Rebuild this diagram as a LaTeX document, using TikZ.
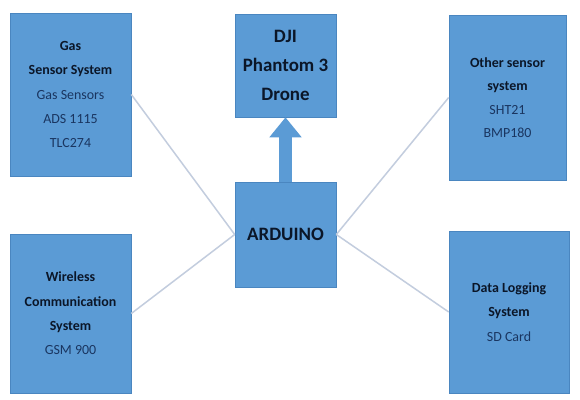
\documentclass[tikz,border=0pt]{standalone}
\usepackage{fontspec}
\setmainfont{Carlito}
\usetikzlibrary{arrows.meta}
\definecolor{boxblue}{HTML}{5B9BD5}
\definecolor{boxedge}{HTML}{4A86C0}
\definecolor{headtxt}{HTML}{0B1628}
\definecolor{subtxt}{HTML}{1A3560}
\definecolor{linkgray}{HTML}{C3CDDE}
\tikzset{
  block/.style={draw=boxedge, line width=0.6bp, fill=boxblue, align=center, inner sep=0pt},
  small/.style={block, font=\fontsize{14}{24.5}\selectfont},
  big/.style={block, font=\fontsize{19}{29}\selectfont\bfseries, text=headtxt},
  link/.style={draw=linkgray, line width=1.5bp},
}
\newcommand{\hdtxt}[1]{\textbf{\color{headtxt}#1}}
\newcommand{\sbtxt}[1]{{\color{subtxt}#1}}
\begin{document}
\begin{tikzpicture}[x=1bp,y=-1bp]
\useasboundingbox[fill=white] (0,0) rectangle (580,399);
\node[small, minimum width=121bp, minimum height=163bp] (gas) at (70.5,94.5)
  {\hdtxt{Gas}\\\hdtxt{Sensor System}\\\sbtxt{Gas Sensors}\\\sbtxt{ADS 1115}\\\sbtxt{TLC274}};
\node[big, minimum width=101bp, minimum height=103bp] (drone) at (285.5,65.5)
  {DJI\\Phantom 3\\Drone};
\node[big, minimum width=101bp, minimum height=105bp] (ard) at (285.5,234.5)
  {ARDUINO};
\node[small, font=\fontsize{14}{23.5}\selectfont, minimum width=117bp, minimum height=165bp] (other) at (507.5,97.5)
  {\hdtxt{Other sensor}\\\hdtxt{system}\\\sbtxt{SHT21}\\\sbtxt{BMP180}};
\node[small, minimum width=121bp, minimum height=159bp] (wire) at (70.5,313.5)
  {\hdtxt{Wireless}\\\hdtxt{Communication}\\\hdtxt{System}\\\sbtxt{GSM 900}};
\node[small, minimum width=120bp, minimum height=162bp] (data) at (509,312)
  {\hdtxt{Data Logging}\\\hdtxt{System}\\\sbtxt{SD Card}};
\draw[link] (gas.east) -- (ard.west);
\draw[link] (wire.east) -- (ard.west);
\draw[link] (other.west) -- (ard.east);
\draw[link] (data.west) -- (ard.east);
\draw[draw=boxblue, line width=13bp, -{Triangle[width=31bp,length=20bp,fill=boxblue]}] (ard.north) -- (drone.south);
\end{tikzpicture}
\end{document}
